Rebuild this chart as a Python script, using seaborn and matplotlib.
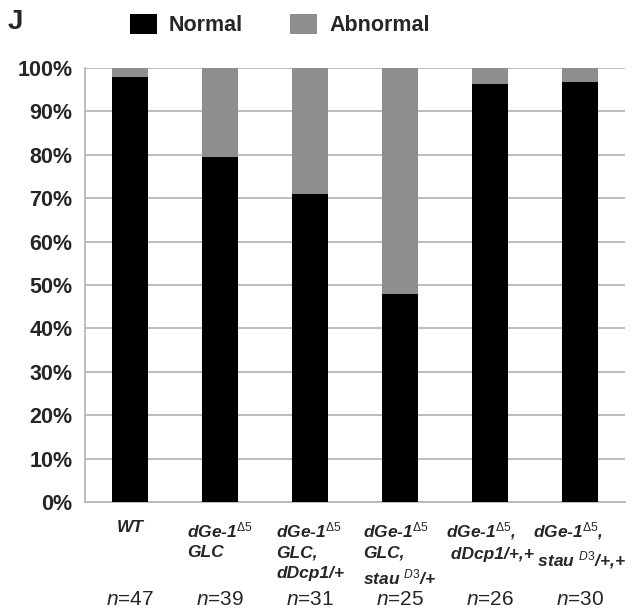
import matplotlib
matplotlib.use("Agg")
import matplotlib.pyplot as plt
import pandas as pd
import seaborn as sns

groups = ["WT", "GLC", "GLC_dcp", "GLC_stau", "het_dcp", "het_stau"]
tick_labels = [
    "WT",
    "dGe-1$^{\\Delta5}$\nGLC",
    "dGe-1$^{\\Delta5}$\nGLC,\ndDcp1/+",
    "dGe-1$^{\\Delta5}$\nGLC,\nstau $^{\\mathit{D3}}$/+",
    "dGe-1$^{\\Delta5}$,\n dDcp1/+,+",
    "dGe-1$^{\\Delta5}$,\n stau $^{\\mathit{D3}}$/+,+",
]
normal_pct = [97.9, 79.5, 71.0, 48.0, 96.2, 96.7]
abnormal_pct = [2.1, 20.5, 29.0, 52.0, 3.8, 3.3]
n_counts = [47, 39, 31, 25, 26, 30]
y_ticks = list(range(0, 101, 10))

GRAY = "#8e8e8e"
LINE = "#b8b8b8"

df = pd.DataFrame({"group": groups, "Normal": normal_pct, "Abnormal": abnormal_pct})
df["total"] = df["Normal"] + df["Abnormal"]

sns.set_style("white")
plt.rcParams["font.family"] = ["Liberation Sans", "DejaVu Sans"]
plt.rcParams["mathtext.fontset"] = "custom"
plt.rcParams["mathtext.rm"] = "Liberation Sans"
plt.rcParams["mathtext.it"] = "Liberation Sans:italic"
plt.rcParams["mathtext.bf"] = "Liberation Sans:bold"

fig = plt.figure(figsize=(6.32, 6.12), dpi=100)
ax = fig.add_axes([0.1345, 0.1797, 0.8545, 0.7093])

sns.barplot(data=df, x="group", y="total", color=GRAY, width=0.4, saturation=1,
            linewidth=0, label="Abnormal", zorder=2, ax=ax)
sns.barplot(data=df, x="group", y="Normal", color="black", width=0.4, saturation=1,
            linewidth=0, label="Normal", zorder=3, ax=ax)
if ax.get_legend() is not None:
    ax.get_legend().remove()

ax.set_xlim(-0.5, len(groups) - 0.5)
ax.set_ylim(0, 100)
ax.set_xlabel("")
ax.set_ylabel("")

ax.set_axisbelow(True)
ax.yaxis.grid(True, color=LINE, linewidth=1.3)
ax.set_yticks(y_ticks, [f"{v}%" for v in y_ticks], fontweight="bold", fontsize=15.5)
ax.tick_params(axis="y", length=4, width=1.2, color=LINE, pad=5)

ax.set_xticks(range(len(groups)), tick_labels, fontweight="bold", fontstyle="italic",
              fontsize=12.5, multialignment="left", linespacing=1.45)
ax.tick_params(axis="x", which="major", length=0, pad=13)
ax.set_xticks([i - 0.5 for i in range(len(groups) + 1)], minor=True)
ax.tick_params(axis="x", which="minor", length=5, width=1.2, color=LINE)

sns.despine(ax=ax)
for side in ["left", "bottom"]:
    ax.spines[side].set_color(LINE)
    ax.spines[side].set_linewidth(1.3)

for i, n in enumerate(n_counts):
    ax.text(i, -0.237, f"$n$={n}", transform=ax.get_xaxis_transform(),
            ha="center", va="baseline", fontsize=15)

handles, labels = ax.get_legend_handles_labels()
order = [labels.index("Normal"), labels.index("Abnormal")]
fig.legend([handles[k] for k in order], [labels[k] for k in order],
           loc="center left", bbox_to_anchor=(130 / 632, 1 - 25 / 612), ncol=2,
           frameon=False, borderpad=0, borderaxespad=0, handlelength=1.25,
           handleheight=1.1, handletextpad=0.56, columnspacing=2.2,
           prop=dict(weight="bold", size=15.5))

fig.text(8 / 632, 1 - 22 / 612, "J", fontsize=20, fontweight="bold", ha="left", va="center")

fig.savefig("out.png", dpi=100)
